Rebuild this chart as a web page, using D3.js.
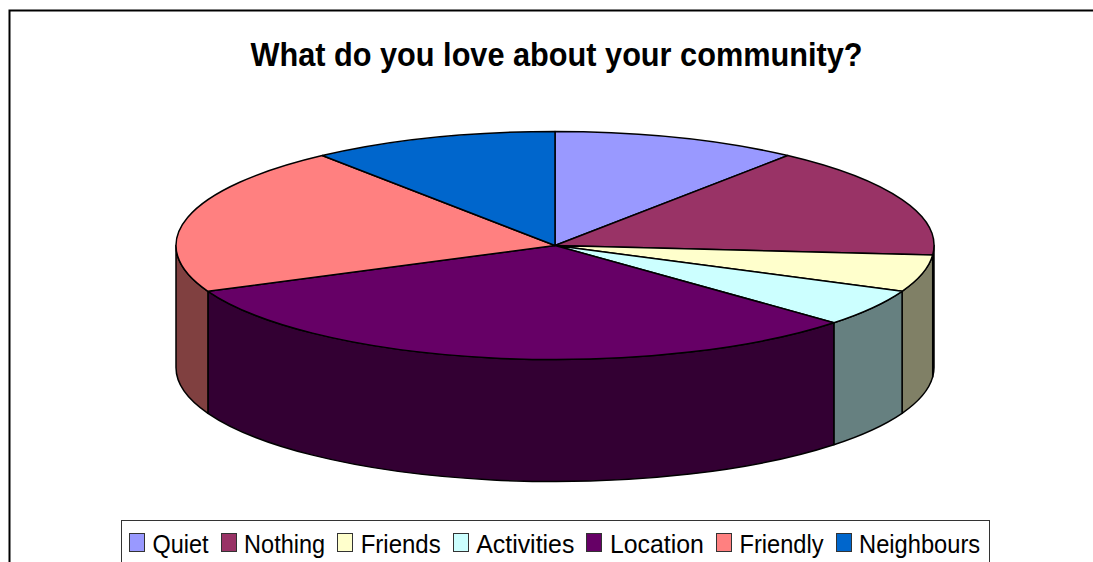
<!DOCTYPE html>
<html>
<head>
<meta charset="utf-8">
<title>What do you love about your community?</title>
<script src="https://cdn.jsdelivr.net/npm/d3@7"></script>
<style>
  html, body { margin: 0; padding: 0; background: #fff; overflow: hidden; }
  svg { display: block; font-family: "Liberation Sans", Arial, sans-serif; }
</style>
</head>
<body>
<svg id="chart" width="1093" height="562"></svg>
<script>
// Survey responses, in slice order clockwise from twelve o'clock.
const categories = ["Quiet", "Nothing", "Friends", "Activities", "Location", "Friendly", "Neighbours"];
const responses = [2, 3, 1, 1, 6, 4, 2];
const sliceColors = ["#9999ff", "#993366", "#ffffcc", "#ccffff", "#660066", "#ff8080", "#0066cc"];
const chartTitle = "What do you love about your community?";

const W = 1093, H = 562;
const cx = 555, cy = 245.5, rx = 379, ry = 114, depth = 122;

// Fitted widths of the legend labels, in pixels.
const legendLabelWidths = [56, 81, 80, 98, 94, 84, 121];

const svg = d3.select("#chart");

// Outer chart frame; it runs past the right and bottom edges of the page.
svg.append("path")
  .attr("d", `M9.5,${H + 2}V10.5H${W + 2}`)
  .attr("fill", "none").attr("stroke", "#000").attr("stroke-width", 2);

svg.append("text")
  .attr("x", 556.5).attr("y", 66)
  .attr("text-anchor", "middle")
  .attr("font-size", 34).attr("font-weight", "bold")
  .attr("textLength", 612).attr("lengthAdjust", "spacingAndGlyphs")
  .attr("fill", "#000")
  .text(chartTitle);

const pie = d3.pie().sort(null).value(d => d.value);
const slices = pie(categories.map((name, i) => ({ name, value: responses[i], color: sliceColors[i] })));

// Screen position of a pie angle on the tilted ellipse (0 = up, clockwise).
const px = a => cx + rx * Math.sin(a);
const py = a => cy - ry * Math.cos(a);

// Outer wall: only the front half of the cylinder can be seen.
function wallPath(a0, a1) {
  const s = Math.max(a0, Math.PI / 2), e = Math.min(a1, 3 * Math.PI / 2);
  if (e <= s) return null;
  return `M${px(s)},${py(s)}A${rx},${ry} 0 0 1 ${px(e)},${py(e)}` +
         `L${px(e)},${py(e) + depth}A${rx},${ry} 0 0 0 ${px(s)},${py(s) + depth}Z`;
}

const shade = c => { const k = d3.rgb(c); return d3.rgb(k.r / 2, k.g / 2, k.b / 2).formatHex(); };

svg.append("g").selectAll("path")
  .data(slices.filter(d => wallPath(d.startAngle, d.endAngle)))
  .join("path")
  .attr("d", d => wallPath(d.startAngle, d.endAngle))
  .attr("fill", d => shade(d.data.color))
  .attr("stroke", "#000").attr("stroke-width", 1.5).attr("stroke-linejoin", "round");

// Top face: a circular pie squashed vertically into the ellipse.
const arc = d3.arc().innerRadius(0).outerRadius(rx);
svg.append("g")
  .attr("transform", `translate(${cx},${cy}) scale(1,${ry / rx})`)
  .selectAll("path")
  .data(slices)
  .join("path")
  .attr("d", arc)
  .attr("fill", d => d.data.color)
  .attr("stroke", "#000").attr("stroke-width", 1.5)
  .attr("stroke-linejoin", "round")
  .attr("vector-effect", "non-scaling-stroke");

// Legend, cut off by the bottom of the page like the frame.
const legend = svg.append("g");
legend.append("rect")
  .attr("x", 121.5).attr("y", 520.5).attr("width", 868).attr("height", 60)
  .attr("fill", "#fff").attr("stroke", "#333").attr("stroke-width", 1);

const swatchW = 15, swatchH = 18, swatchGap = 8, itemGap = 12.6;
let lx = 129.5;
categories.forEach((name, i) => {
  legend.append("rect")
    .attr("x", Math.round(lx - 0.5) + 0.5).attr("y", 533.5).attr("width", swatchW).attr("height", swatchH)
    .attr("fill", sliceColors[i]).attr("stroke", "#333").attr("stroke-width", 1);
  const tx = lx + swatchW + swatchGap;
  legend.append("text")
    .attr("x", tx).attr("y", 552.5)
    .attr("font-size", 26).attr("fill", "#000")
    .attr("textLength", legendLabelWidths[i]).attr("lengthAdjust", "spacingAndGlyphs")
    .text(name);
  lx = tx + legendLabelWidths[i] + itemGap;
});
</script>
</body>
</html>
